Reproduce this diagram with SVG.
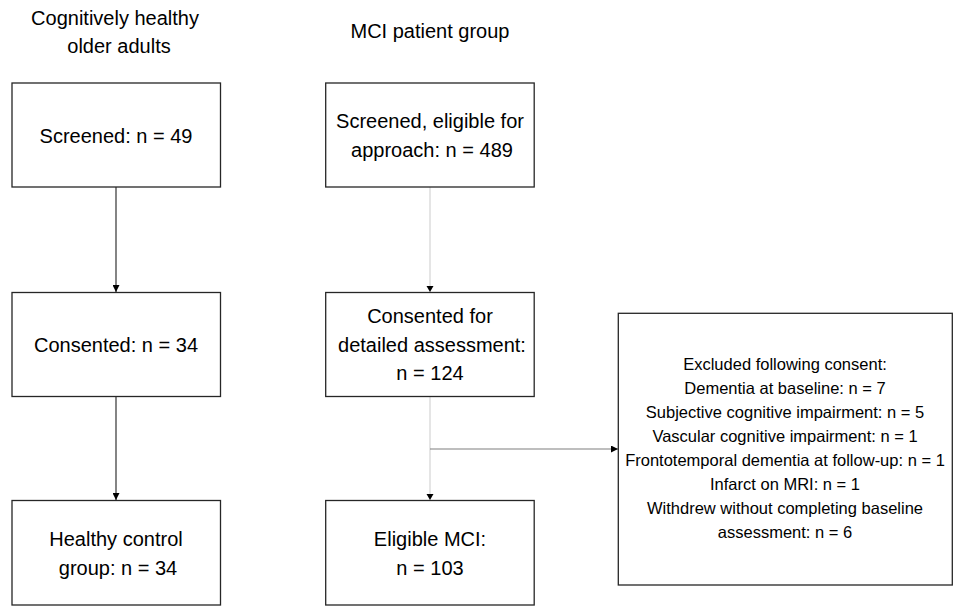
<svg xmlns="http://www.w3.org/2000/svg" width="954" height="606" viewBox="0 0 954 606">
<style>
.box{fill:#fff;stroke:#262626;stroke-width:1.3}
.t{font-family:"Liberation Sans",Arial,sans-serif;font-size:20px;fill:#000;text-anchor:middle}
.s{font-family:"Liberation Sans",Arial,sans-serif;font-size:16.5px;fill:#000;text-anchor:middle}
.dk{stroke:#333;stroke-width:1.2;fill:none}
.lt{stroke:#d4d4d4;stroke-width:1.2;fill:none}
.md{stroke:#7f7f7f;stroke-width:1.2;fill:none}
</style>
<defs>
<marker id="ah" viewBox="0 0 10 10" refX="10" refY="5" markerWidth="7" markerHeight="7" markerUnits="userSpaceOnUse" orient="auto">
<path d="M0,0 L10,5 L0,10 Z" fill="#000"/>
</marker>
</defs>
<rect width="954" height="606" fill="#fff"/>
<g id="headers">
<text class="t" x="115" y="25">Cognitively healthy</text>
<text class="t" x="119" y="53">older adults</text>
<text class="t" x="430" y="38">MCI patient group</text>
</g>
<g id="connectors">
<line class="dk" x1="116" y1="187" x2="116" y2="292" marker-end="url(#ah)"/>
<line class="dk" x1="116" y1="397" x2="116" y2="500" marker-end="url(#ah)"/>
<line class="lt" x1="430" y1="187" x2="430" y2="292"/>
<path d="M426.5,286 L433.5,286 L430,292 Z" fill="#000"/>
<line class="lt" x1="430" y1="397" x2="430" y2="500"/>
<path d="M426.5,494 L433.5,494 L430,500 Z" fill="#000"/>
<line class="md" x1="430" y1="449" x2="618" y2="449" marker-end="url(#ah)"/>
</g>
<g id="n1">
<rect class="box" x="12" y="83" width="208.5" height="104"/>
<text class="t" x="116" y="143">Screened: n = 49</text>
</g>
<g id="n2">
<rect class="box" x="12" y="292.5" width="208.5" height="104"/>
<text class="t" x="116" y="352">Consented: n = 34</text>
</g>
<g id="n3">
<rect class="box" x="12" y="500.5" width="208.5" height="104.5"/>
<text class="t" x="116" y="546">Healthy control</text>
<text class="t" x="118" y="575">group: n = 34</text>
</g>
<g id="m1">
<rect class="box" x="325.7" y="83" width="208.5" height="104"/>
<text class="t" x="430" y="128">Screened, eligible for</text>
<text class="t" x="432" y="157">approach: n = 489</text>
</g>
<g id="m2">
<rect class="box" x="325.7" y="292.5" width="208.5" height="104"/>
<text class="t" x="430" y="323">Consented for</text>
<text class="t" x="432" y="352">detailed assessment:</text>
<text class="t" x="430" y="380">n = 124</text>
</g>
<g id="m3">
<rect class="box" x="325.7" y="500.5" width="208.5" height="104.5"/>
<text class="t" x="430" y="546">Eligible MCI:</text>
<text class="t" x="430" y="575">n = 103</text>
</g>
<g id="excl">
<rect class="box" x="618.3" y="313.3" width="334" height="271.7"/>
<text class="s" x="785" y="370">Excluded following consent:</text>
<text class="s" x="785" y="394">Dementia at baseline: n = 7</text>
<text class="s" x="785" y="418">Subjective cognitive impairment: n = 5</text>
<text class="s" x="785" y="442">Vascular cognitive impairment: n = 1</text>
<text class="s" x="785" y="466">Frontotemporal dementia at follow-up: n = 1</text>
<text class="s" x="785" y="490">Infarct on MRI: n = 1</text>
<text class="s" x="785" y="514">Withdrew without completing baseline</text>
<text class="s" x="785" y="538">assessment: n = 6</text>
</g>
</svg>
